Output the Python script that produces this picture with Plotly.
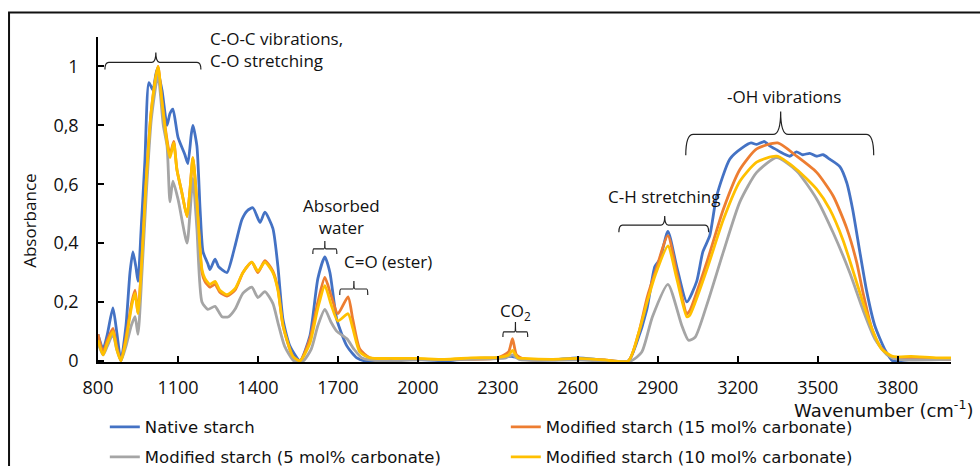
import plotly.graph_objects as go

# ---------------- data ----------------
wn_native = [800, 819, 835, 856, 870, 886, 905, 920, 931, 942, 950, 962, 976, 991, 1006, 1021, 1040, 1059, 1070, 1081,
             1100, 1126, 1137, 1150, 1156, 1171, 1183, 1194, 1212, 1220, 1239, 1252, 1265, 1284, 1314, 1340, 1360, 1381,
             1408, 1426, 1456, 1475, 1494, 1520, 1558, 1595, 1625, 1651, 1670, 1696, 1734, 1771, 1800, 1900, 2000, 2100,
             2200, 2300, 2350, 2400, 2500, 2600, 2700, 2790, 2820, 2859, 2889, 2908, 2938, 2971, 3009, 3046, 3069, 3095,
             3121, 3170, 3219, 3250, 3271, 3300, 3320, 3340, 3358, 3395, 3420, 3444, 3470, 3496, 3520, 3545, 3583, 3609,
             3631, 3658, 3684, 3714, 3751, 3781, 3850, 3950, 4000]
abs_native = [0.09, 0.04, 0.09, 0.18, 0.10, 0.0, 0.12, 0.30, 0.37, 0.32, 0.27, 0.45, 0.68, 0.945, 0.92, 0.99, 0.92, 0.80, 0.84, 0.855,
              0.76, 0.70, 0.67, 0.77, 0.80, 0.73, 0.515, 0.37, 0.33, 0.31, 0.345, 0.32, 0.31, 0.30, 0.39, 0.48, 0.51, 0.52,
              0.47, 0.505, 0.45, 0.32, 0.14, 0.05, 0.0, 0.085, 0.28, 0.353, 0.30, 0.14, 0.05, 0.01, 0.0, 0.003, 0.005, 0.0,
              0.008, 0.01, 0.015, 0.005, 0.003, 0.01, 0.002, 0.0, 0.06, 0.175, 0.32, 0.345, 0.44, 0.32, 0.20, 0.27, 0.37, 0.425,
              0.56, 0.685, 0.725, 0.74, 0.735, 0.745, 0.73, 0.72, 0.71, 0.695, 0.71, 0.70, 0.705, 0.695, 0.70, 0.685, 0.66, 0.605,
              0.515, 0.37, 0.235, 0.12, 0.04, 0.0, 0.005, 0.005, 0.005]

wn_15 = [800, 819, 835, 856, 870, 886, 905, 927, 939, 950, 965, 980, 1000, 1025, 1040, 1059, 1070, 1084, 1096, 1115,
         1134, 1145, 1156, 1171, 1190, 1201, 1220, 1239, 1257, 1284, 1314, 1344, 1377, 1400, 1426, 1456, 1475, 1494,
         1531, 1558, 1595, 1625, 1651, 1675, 1700, 1738, 1756, 1782, 1820, 1900, 2000, 2100, 2200, 2300, 2340, 2355,
         2370, 2400, 2500, 2600, 2700, 2790, 2830, 2860, 2890, 2938, 2971, 3009, 3020, 3084, 3146, 3208, 3271, 3350,
         3421, 3496, 3558, 3609, 3646, 3669, 3703, 3733, 3781, 3850, 3950, 4000]
abs_15 = [0.09, 0.03, 0.07, 0.11, 0.05, 0.0, 0.08, 0.20, 0.24, 0.165, 0.35, 0.60, 0.85, 1.0, 0.88, 0.75, 0.70, 0.745, 0.65, 0.57,
          0.49, 0.58, 0.69, 0.54, 0.30, 0.27, 0.25, 0.26, 0.233, 0.22, 0.24, 0.30, 0.335, 0.30, 0.34, 0.305, 0.245, 0.12,
          0.015, 0.0, 0.075, 0.20, 0.283, 0.22, 0.16, 0.217, 0.14, 0.04, 0.01, 0.005, 0.005, 0.005, 0.005, 0.01, 0.03, 0.075,
          0.02, 0.005, 0.005, 0.005, 0.003, 0.0, 0.10, 0.215, 0.30, 0.425, 0.30, 0.16, 0.17, 0.335, 0.515, 0.65, 0.72, 0.74,
          0.695, 0.64, 0.56, 0.45, 0.335, 0.235, 0.11, 0.05, 0.01, 0.01, 0.005, 0.005]

wn_5 = [800, 819, 835, 856, 870, 886, 905, 925, 939, 950, 965, 980, 1000, 1025, 1045, 1059, 1070, 1081, 1100, 1134,
        1145, 1156, 1171, 1190, 1212, 1239, 1265, 1290, 1314, 1344, 1377, 1400, 1426, 1456, 1475, 1500, 1535, 1570,
        1600, 1625, 1651, 1675, 1696, 1734, 1760, 1790, 1850, 2000, 2200, 2330, 2355, 2380, 2600, 2800, 2840, 2880,
        2938, 2990, 3015, 3040, 3084, 3146, 3208, 3271, 3346, 3421, 3496, 3558, 3620, 3669, 3714, 3760, 3800, 4000]
abs_5 = [0.06, 0.02, 0.05, 0.09, 0.04, 0.0, 0.05, 0.12, 0.15, 0.09, 0.30, 0.55, 0.82, 0.97, 0.80, 0.73, 0.54, 0.61, 0.55, 0.40,
         0.50, 0.62, 0.45, 0.20, 0.175, 0.185, 0.15, 0.15, 0.175, 0.23, 0.25, 0.215, 0.235, 0.195, 0.13, 0.05, 0.0, 0.0,
         0.04, 0.12, 0.175, 0.13, 0.10, 0.075, 0.04, 0.01, 0.0, 0.003, 0.005, 0.01, 0.02, 0.005, 0.003, 0.0, 0.03, 0.15,
         0.26, 0.12, 0.07, 0.08, 0.19, 0.37, 0.54, 0.64, 0.69, 0.645, 0.55, 0.435, 0.30, 0.175, 0.075, 0.02, 0.005, 0.005]

wn_10 = [800, 819, 835, 856, 870, 886, 905, 927, 939, 950, 965, 980, 1000, 1025, 1040, 1059, 1070, 1084, 1096, 1115,
         1134, 1145, 1156, 1171, 1190, 1201, 1220, 1239, 1257, 1284, 1314, 1344, 1377, 1400, 1426, 1456, 1475, 1494,
         1531, 1558, 1595, 1625, 1651, 1675, 1700, 1738, 1756, 1782, 1820, 1900, 2000, 2100, 2200, 2300, 2340, 2355,
         2375, 2400, 2500, 2600, 2700, 2790, 2830, 2860, 2890, 2938, 2971, 3009, 3020, 3084, 3146, 3208, 3271, 3346,
         3421, 3496, 3545, 3595, 3631, 3669, 3707, 3740, 3781, 3850, 3950, 4000]
abs_10 = [0.07, 0.02, 0.06, 0.10, 0.04, 0.0, 0.07, 0.19, 0.23, 0.16, 0.35, 0.60, 0.85, 1.0, 0.88, 0.74, 0.69, 0.74, 0.65, 0.57,
          0.49, 0.58, 0.69, 0.54, 0.31, 0.28, 0.26, 0.27, 0.24, 0.225, 0.245, 0.30, 0.335, 0.305, 0.335, 0.30, 0.24, 0.12,
          0.015, 0.0, 0.06, 0.18, 0.255, 0.19, 0.135, 0.16, 0.11, 0.03, 0.01, 0.008, 0.008, 0.005, 0.01, 0.012, 0.02, 0.035,
          0.01, 0.008, 0.005, 0.008, 0.003, 0.0, 0.10, 0.20, 0.29, 0.39, 0.28, 0.15, 0.155, 0.31, 0.48, 0.61, 0.675, 0.695,
          0.65, 0.583, 0.515, 0.41, 0.31, 0.20, 0.10, 0.04, 0.015, 0.015, 0.01, 0.01]

series_names = ["Native starch", "Modified starch (15 mol% carbonate)",
                "Modified starch (5 mol% carbonate)", "Modified starch (10 mol% carbonate)"]
series_colors = ["#4472C4", "#ED7D31", "#A5A5A5", "#FFC000"]

x_tickvals = [800, 1100, 1400, 1700, 2000, 2300, 2600, 2900, 3200, 3500, 3800]
x_ticktext = ["800", "1100", "1400", "1700", "2000", "2300", "2600", "2900", "3200", "3500", "3800"]
y_tickvals = [0, 0.2, 0.4, 0.6, 0.8, 1.0]
y_ticktext = ["0", "0,2", "0,4", "0,6", "0,8", "1"]

# annotation brackets: (label, x0, x1, xmid, y_line, drop, nub, text_x, text_y, xanchor)
brackets = [
    ("C-O-C vibrations,<br>C-O stretching", 826, 1186, 1017, 1.014, 0.024, 0.033, 1212, 1.058, "left"),
    ("Absorbed<br>water", 1606, 1696, 1651, 0.380, 0.017, 0.027, 1715, 0.490, "center"),
    ("C=O (ester)", 1707, 1812, 1760, 0.244, 0.020, 0.027, 1715, 0.336, "left"),
    ("CO<sub>2</sub>", 2319, 2412, 2366, 0.098, 0.017, 0.034, 2366, 0.166, "center"),
    ("C-H stretching", 2754, 3091, 2926, 0.461, 0.024, 0.031, 2705, 0.559, "left"),
    ("-OH vibrations", 3005, 3710, 3361, 0.769, 0.071, 0.078, 3372, 0.898, "center"),
]

# ---------------- figure ----------------
fig = go.Figure()
all_x = [wn_native, wn_15, wn_5, wn_10]
all_y = [abs_native, abs_15, abs_5, abs_10]
legend_ids = ["legend", "legend", "legend2", "legend2"]
for name, color, xs, ys, lg in zip(series_names, series_colors, all_x, all_y, legend_ids):
    fig.add_trace(go.Scatter(x=xs, y=ys, mode="lines", name=name, legend=lg,
                             line=dict(color=color, width=2.8, shape="spline", smoothing=0.6)))

shapes = []
annotations = []
for (label, x0, x1, xm, yl, drop, nub, tx, ty, xa) in brackets:
    dx = (x1 - x0) * 0.04
    path = (f"M {x0},{yl - drop} Q {x0},{yl} {x0 + dx},{yl} "
            f"L {xm - dx},{yl} Q {xm},{yl} {xm},{yl + nub} "
            f"Q {xm},{yl} {xm + dx},{yl} L {x1 - dx},{yl} Q {x1},{yl} {x1},{yl - drop}")
    shapes.append(dict(type="path", xref="x", yref="y", path=path,
                       line=dict(color="#222222", width=1.2)))
    annotations.append(dict(x=tx, y=ty, xref="x", yref="y", text=label, showarrow=False,
                            xanchor=xa, yanchor="middle", align=xa,
                            font=dict(family="Open Sans", size=17, color="#111111")))

# outer frame (extends beyond the right and bottom edges, as in the source figure)
shapes.append(dict(type="rect", xref="paper", yref="paper", x0=-0.1043, x1=1.12, y0=-0.40, y1=1.0755,
                   line=dict(color="#111111", width=2), fillcolor="rgba(0,0,0,0)", layer="above"))

annotations.append(dict(x=-0.0797, y=0.4345, xref="paper", yref="paper", text="Absorbance", textangle=-90,
                        showarrow=False, xanchor="center", yanchor="middle",
                        font=dict(family="Open Sans", size=17, color="#111111")))
annotations.append(dict(x=0.8136, y=-0.1448, xref="paper", yref="paper", text="Wavenumber (cm<sup>-1</sup>)",
                        showarrow=False, xanchor="left", yanchor="middle",
                        font=dict(family="DejaVu Sans", size=18, color="#111111")))

fig.update_layout(
    width=980, height=466,
    margin=dict(l=98, r=29, t=37, b=104, autoexpand=False),
    paper_bgcolor="white", plot_bgcolor="white",
    shapes=shapes, annotations=annotations,
    xaxis=dict(range=[800, 4000], tickvals=x_tickvals, ticktext=x_ticktext, automargin=False,
               showgrid=False, zeroline=False, showline=True, linecolor="black", linewidth=1.5,
               ticks="inside", ticklen=6, tickcolor="black", tickwidth=1.5, ticklabelstandoff=9,
               tickfont=dict(family="Open Sans", size=18, color="#111111")),
    yaxis=dict(range=[-0.004, 1.1], tickvals=y_tickvals, ticktext=y_ticktext, automargin=False,
               showgrid=False, zeroline=False, showline=True, linecolor="black", linewidth=1.5,
               ticks="inside", ticklen=6, tickcolor="black", tickwidth=1.5, ticklabelstandoff=14,
               tickfont=dict(family="Open Sans", size=18, color="#111111")),
    legend=dict(orientation="h", x=0.008, xanchor="left", y=-0.2003, yanchor="middle",
                entrywidth=356, entrywidthmode="pixels", bgcolor="rgba(0,0,0,0)",
                font=dict(family="DejaVu Sans", size=16.5, color="#111111")),
    legend2=dict(orientation="h", x=0.008, xanchor="left", y=-0.2928, yanchor="middle",
                 entrywidth=356, entrywidthmode="pixels", bgcolor="rgba(0,0,0,0)",
                 font=dict(family="DejaVu Sans", size=16.5, color="#111111")),
)

fig.write_html("out.html", config={"displayModeBar": False},
               post_script="document.body.style.margin='0';document.body.style.padding='0';")
